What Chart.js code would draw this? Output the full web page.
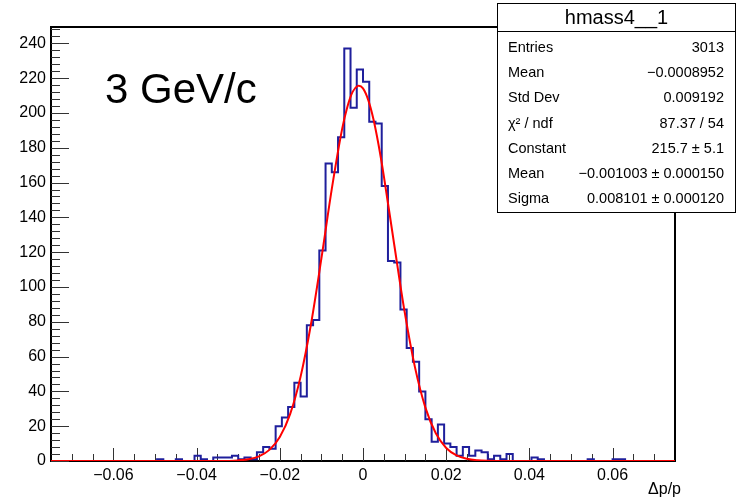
<!DOCTYPE html>
<html>
<head>
<meta charset="utf-8">
<title>hmass4__1</title>
<script src="https://cdn.jsdelivr.net/npm/chart.js@4.4.1/dist/chart.umd.min.js"></script>
<style>
  html, body { margin: 0; padding: 0; background: #fff; }
  #wrap { width: 737px; height: 499px; }
</style>
</head>
<body>
<div id="wrap"><canvas id="histChart" width="737" height="499"></canvas></div>
<script>
// Histogramm: 100 Bins von -0.075 bis 0.075
const xMin = -0.075;
const xMax = 0.075;
const binWidth = 0.0015;
const binCounts = [
    0, 0, 0, 0, 0, 0, 0, 0, 0, 0,
    0, 0, 0, 0, 0, 0, 0, 1, 0, 0,
    1, 0, 0, 3, 1, 0, 2, 2, 2, 3,
    1, 2, 1, 5, 8, 7, 20, 25, 31, 45,
    37, 78, 81, 121, 171, 166, 186, 237, 203, 225,
    218, 195, 194, 158, 115, 114, 87, 65, 57, 40,
    24, 11, 21, 10, 8, 3, 8, 3, 6, 5,
    1, 3, 1, 4, 0, 0, 0, 2, 1, 0,
    0, 0, 0, 0, 0, 0, 1, 0, 0, 0,
    1, 1, 0, 0, 0, 0, 0, 0, 0, 0
];

// Fitkurve (Gauss), Punkte
const fitX = [-0.075, -0.04, -0.035, -0.03, -0.0275, -0.025, -0.0225, -0.02, -0.0175, -0.015,
              -0.0125, -0.01, -0.0075, -0.005, -0.00375, -0.0025, -0.00125, -0.001, 0, 0.00125,
              0.0025, 0.00375, 0.005, 0.0075, 0.01, 0.0125, 0.015, 0.0175, 0.02, 0.0225,
              0.025, 0.0275, 0.03, 0.035, 0.075];
const fitY = [0, 0, 0.03, 0.36, 1.0, 2.7, 6.4, 13.8, 27.1, 48.5,
              78.7, 116.4, 156.4, 191.0, 203.6, 212.1, 215.6, 215.7, 214.1, 207.5,
              196.5, 181.6, 163.9, 124.4, 85.8, 53.8, 30.7, 15.9, 7.5, 3.2,
              1.25, 0.44, 0.14, 0.01, 0];

// Achsen
const xTickValues = [-0.06, -0.04, -0.02, 0, 0.02, 0.04, 0.06];
const xMinorStep = 0.005;
const yTickValues = [0, 20, 40, 60, 80, 100, 120, 140, 160, 180, 200, 220, 240];
const yMinorStep = 4;
const yMax = 249.4;

// Texte
const momentumLabel = '3 GeV/c';
const xAxisTitle = 'Δp/p';
const statsTitle = 'hmass4__1';
const statsLabels = ['Entries', 'Mean', 'Std Dev', 'χ² / ndf', 'Constant', 'Mean', 'Sigma'];
const statsValues = ['3013', '−0.0008952', '0.009192', '87.37 / 54', '215.7 ± 5.1',
                     '−0.001003 ± 0.000150', '0.008101 ± 0.000120'];

const fontFamily = '"Liberation Sans", Arial, Helvetica, sans-serif';

const histPoints = binCounts.map((c, i) => ({ x: xMin + i * binWidth, y: c }));
histPoints.push({ x: xMax, y: binCounts[binCounts.length - 1] });

const fitPoints = fitX.map((x, i) => ({ x: x, y: fitY[i] }));

function fmtX(v) {
    if (Math.abs(v) < 1e-9) return '0';
    return (v < 0 ? '−' : '') + Math.abs(v).toFixed(2);
}

// Rahmen und Ticks nach innen (ROOT-Stil)
const rootFramePlugin = {
    id: 'rootFrame',
    beforeDatasetsDraw(chart) {
        const ctx = chart.ctx;
        const a = chart.chartArea;
        const xs = chart.scales.x;
        const ys = chart.scales.y;
        ctx.save();

        ctx.strokeStyle = '#000';
        ctx.lineWidth = 2;
        ctx.strokeRect(a.left, a.top, a.right - a.left, a.bottom - a.top);

        ctx.lineWidth = 1;
        ctx.strokeStyle = '#333';
        // x minor + major
        for (let v = -0.07; v <= 0.0701; v += xMinorStep) {
            const isMajor = xTickValues.some(t => Math.abs(t - v) < 1e-6);
            const px = Math.round(xs.getPixelForValue(v)) + 0.5;
            ctx.beginPath();
            ctx.moveTo(px, a.bottom);
            ctx.lineTo(px, a.bottom - (isMajor ? 13 : 7));
            ctx.stroke();
        }
        // y minor + major
        for (let v = 0; v <= yMax; v += yMinorStep) {
            const isMajor = yTickValues.includes(v);
            const py = Math.round(ys.getPixelForValue(v)) + 0.5;
            ctx.beginPath();
            ctx.moveTo(a.left, py);
            ctx.lineTo(a.left + (isMajor ? 18 : 9), py);
            ctx.stroke();
        }
        ctx.restore();
    },
    afterDraw(chart) {
        const ctx = chart.ctx;
        ctx.save();
        ctx.fillStyle = '#000';

        // grosse Beschriftung
        ctx.font = '42px ' + fontFamily;
        ctx.textAlign = 'left';
        ctx.textBaseline = 'alphabetic';
        ctx.fillText(momentumLabel, 105, 103);

        // Achsentitel
        ctx.font = '16px ' + fontFamily;
        ctx.textAlign = 'right';
        ctx.textBaseline = 'middle';
        ctx.fillText(xAxisTitle, 681, 490);

        // Statistikbox
        const bx = 497.5, by = 3.5, bw = 238, bh = 209;
        ctx.fillStyle = '#fff';
        ctx.fillRect(bx, by, bw, bh);
        ctx.strokeStyle = '#000';
        ctx.lineWidth = 1;
        ctx.strokeRect(bx, by, bw, bh);
        ctx.beginPath();
        ctx.moveTo(bx, 31.5);
        ctx.lineTo(bx + bw, 31.5);
        ctx.stroke();

        ctx.fillStyle = '#000';
        ctx.font = '20px ' + fontFamily;
        ctx.textAlign = 'center';
        ctx.textBaseline = 'middle';
        ctx.fillText(statsTitle, bx + bw / 2, 18);

        ctx.font = '14.5px ' + fontFamily;
        statsLabels.forEach((lab, i) => {
            const y = 48 + i * 25.2;
            ctx.textAlign = 'left';
            ctx.fillText(lab, 508, y);
            ctx.textAlign = 'right';
            ctx.fillText(statsValues[i], 724, y);
        });
        ctx.restore();
    }
};

const config = {
    type: 'line',
    data: {
        datasets: [
            {
                label: 'fit',
                data: fitPoints,
                borderColor: '#ff0000',
                borderWidth: 2,
                pointRadius: 0,
                fill: false,
                cubicInterpolationMode: 'monotone',
                order: 0
            },
            {
                label: 'hmass4__1',
                data: histPoints,
                borderColor: '#1f1f9c',
                borderWidth: 2,
                pointRadius: 0,
                fill: false,
                stepped: 'before',
                order: 1
            }
        ]
    },
    options: {
        responsive: false,
        animation: false,
        layout: { padding: { top: 27, right: 62, left: 0, bottom: 0 } },
        scales: {
            x: {
                type: 'linear',
                min: xMin,
                max: xMax,
                afterBuildTicks: s => { s.ticks = xTickValues.map(v => ({ value: v })); },
                afterFit: s => { s.height = 38; },
                grid: { display: false, drawTicks: false },
                border: { display: false },
                ticks: {
                    callback: v => fmtX(v),
                    color: '#000',
                    font: { family: fontFamily, size: 16 },
                    padding: 5,
                    maxRotation: 0,
                    autoSkip: false
                }
            },
            y: {
                type: 'linear',
                min: 0,
                max: yMax,
                afterBuildTicks: s => { s.ticks = yTickValues.map(v => ({ value: v })); },
                afterFit: s => { s.width = 51; },
                grid: { display: false, drawTicks: false },
                border: { display: false },
                ticks: {
                    callback: v => String(v),
                    color: '#000',
                    font: { family: fontFamily, size: 16 },
                    padding: 5,
                    autoSkip: false
                }
            }
        },
        plugins: {
            legend: { display: false },
            tooltip: { enabled: false }
        }
    },
    plugins: [rootFramePlugin]
};

new Chart(document.getElementById('histChart'), config);
</script>
</body>
</html>
